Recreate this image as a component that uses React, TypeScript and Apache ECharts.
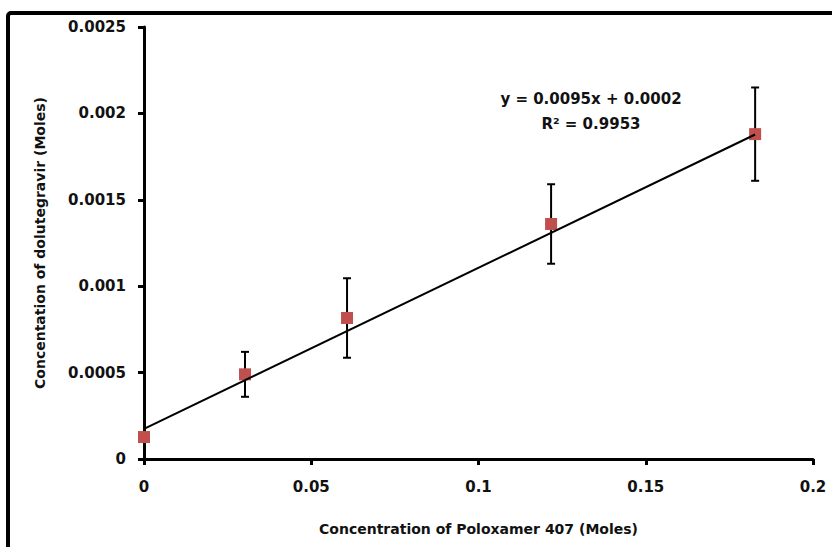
import React, { useEffect, useRef } from "react";
import * as echarts from "echarts";

const poloxamer = [0, 0.0302, 0.0607, 0.1217, 0.1827];
const dolutegravir = [0.000127, 0.00049, 0.000816, 0.00136, 0.00188];
const errors = [0, 0.00013, 0.00023, 0.00023, 0.00027];
const trendX = [0, 0.1827];
const trendY = [0.000174, 0.001878];
const xTicks = [0, 0.05, 0.1, 0.15, 0.2];
const yTicks = [0, 0.0005, 0.001, 0.0015, 0.002, 0.0025];
const equationText = "y = 0.0095x + 0.0002";
const r2Text = "R² = 0.9953";

const FONT = "'DejaVu Sans', sans-serif";

export default function App() {
  const ref = useRef<HTMLDivElement>(null);
  useEffect(() => {
    document.body.style.margin = "0";
    const chart = echarts.init(ref.current!, null, { renderer: "svg" });
    const fmt = (v: number) => String(+v.toFixed(4));
    chart.setOption({
      animation: false,
      backgroundColor: "#fff",
      grid: { left: 144, right: 19, top: 27, bottom: 88, containLabel: false },
      xAxis: {
        type: "value",
        min: xTicks[0],
        max: xTicks[xTicks.length - 1],
        interval: 0.05,
        name: "Concentration of Poloxamer 407 (Moles)",
        nameLocation: "middle",
        nameGap: 63,
        nameTextStyle: { fontFamily: FONT, fontWeight: "bold", fontSize: 14, color: "#111" },
        axisLine: { lineStyle: { color: "#000", width: 3 } },
        axisTick: { show: true, length: 6, lineStyle: { color: "#000", width: 3 } },
        axisLabel: { fontFamily: FONT, fontWeight: "bold", fontSize: 15, color: "#111", margin: 20, formatter: fmt },
        splitLine: { show: false },
      },
      yAxis: {
        type: "value",
        min: yTicks[0],
        max: yTicks[yTicks.length - 1],
        interval: 0.0005,
        name: "Concentation of dolutegravir (Moles)",
        nameLocation: "middle",
        nameGap: 97,
        nameRotate: 90,
        nameTextStyle: { fontFamily: FONT, fontWeight: "bold", fontSize: 14, color: "#111" },
        axisLine: { show: true, lineStyle: { color: "#000", width: 3 } },
        axisTick: { show: true, length: 6, lineStyle: { color: "#000", width: 3 } },
        axisLabel: { fontFamily: FONT, fontWeight: "bold", fontSize: 15, color: "#111", margin: 18, formatter: fmt },
        splitLine: { show: false },
      },
      graphic: [
        {
          type: "rect",
          shape: { x: 8, y: 13, width: 1000, height: 800, r: 3 },
          style: { fill: "none", stroke: "#000", lineWidth: 4 },
          silent: true,
          z: 100,
        },
        {
          type: "text",
          x: 591,
          y: 99,
          style: {
            text: equationText,
            fontFamily: FONT,
            fontWeight: "bold",
            fontSize: 15,
            fill: "#111",
            align: "center",
            verticalAlign: "middle",
          },
        },
        {
          type: "text",
          x: 591,
          y: 124,
          style: {
            text: r2Text,
            fontFamily: FONT,
            fontWeight: "bold",
            fontSize: 15,
            fill: "#111",
            align: "center",
            verticalAlign: "middle",
          },
        },
      ],
      series: [
        {
          type: "custom",
          z: 2,
          clip: false,
          data: poloxamer.map((x, i) => [x, dolutegravir[i], errors[i]]),
          renderItem: (params: any, api: any) => {
            const x = api.value(0);
            const y = api.value(1);
            const e = api.value(2);
            if (!e) return null;
            const top = api.coord([x, y + e]);
            const bot = api.coord([x, y - e]);
            const hw = 4;
            const style = { stroke: "#000", lineWidth: 2 };
            return {
              type: "group",
              children: [
                { type: "line", shape: { x1: top[0], y1: top[1], x2: bot[0], y2: bot[1] }, style },
                { type: "line", shape: { x1: top[0] - hw, y1: top[1], x2: top[0] + hw, y2: top[1] }, style },
                { type: "line", shape: { x1: bot[0] - hw, y1: bot[1], x2: bot[0] + hw, y2: bot[1] }, style },
              ],
            };
          },
        },
        {
          type: "scatter",
          z: 3,
          clip: false,
          symbol: "rect",
          symbolSize: 12,
          itemStyle: { color: "#c0504d", opacity: 1 },
          data: poloxamer.map((x, i) => [x, dolutegravir[i]]),
        },
        {
          type: "line",
          z: 4,
          showSymbol: false,
          symbol: "none",
          lineStyle: { color: "#000", width: 2 },
          data: trendX.map((x, i) => [x, trendY[i]]),
        },
      ],
    });
    return () => chart.dispose();
  }, []);
  return <div ref={ref} style={{ width: 832, height: 547 }} />;
}
